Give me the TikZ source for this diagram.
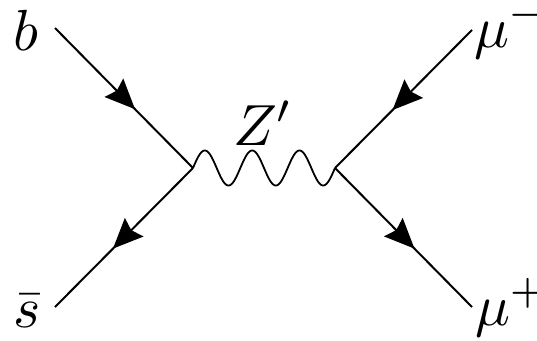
\documentclass[tikz,border=0pt]{standalone}
\usetikzlibrary{arrows.meta,decorations.markings}
\begin{document}
\begin{tikzpicture}[x=1pt,y=-1pt,
  fermion/.style={line width=2pt,
    postaction={decorate},
    decoration={markings, mark=at position 0.58 with {\arrow{Stealth[length=30pt,width=26pt,inset=4pt]}}}},
  boson/.style={line width=1.8pt},
  lbl/.style={inner sep=0pt,outer sep=0pt,scale=5.8}]
\useasboundingbox (0,0) rectangle (537,340);
\clip (0,0) rectangle (537,340);
\coordinate (v1) at (193,168);
\coordinate (v2) at (335,168);
\coordinate (bq) at (55,28);
\coordinate (sq) at (55,307);
\coordinate (mm) at (472,30);
\coordinate (mp) at (472,307);
\draw[fermion] (bq) -- (v1);
\draw[fermion] (v1) -- (sq);
\draw[fermion] (mm) -- (v2);
\draw[fermion] (v2) -- (mp);
\draw[boson,shift={(v1)}] plot[domain=0:142,samples=240,smooth] (\x,{-17.5*sin(7.6062*\x)});
\node[lbl,anchor=base west] (lb) at (13,50) {$b$};
\node[lbl,anchor=base west] (ls) at (13,327) {$\bar{s}$};
\node[lbl,anchor=base west] (lz) at (233,145) {$Z'$};
\node[lbl,anchor=base west] (lm) at (474,47) {$\mu^-$};
\node[lbl,anchor=base west] (lp) at (475,325) {$\mu^+$};
\end{tikzpicture}
\end{document}
